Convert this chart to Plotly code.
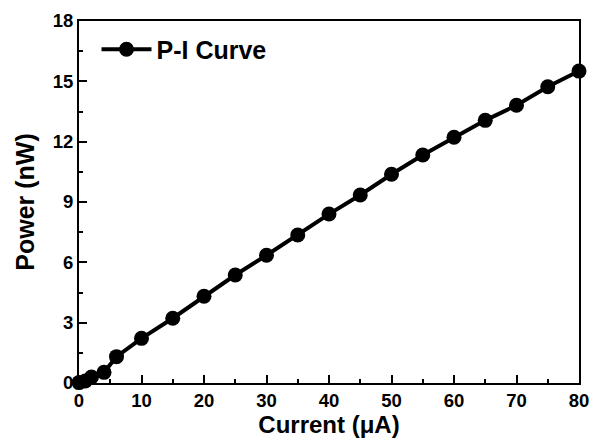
import plotly.graph_objects as go

# Measured power versus drive current
current_uA = [0, 1, 2, 4, 6, 10, 15, 20, 25, 30, 35, 40, 45, 50, 55, 60, 65, 70, 75, 80]
power_nW = [0.02, 0.1, 0.3, 0.53, 1.31, 2.22, 3.22, 4.31, 5.37, 6.35, 7.36,
            8.40, 9.35, 10.38, 11.34, 12.22, 13.06, 13.81, 14.73, 15.51]

x_ticks = [0, 10, 20, 30, 40, 50, 60, 70, 80]
y_ticks = [0, 3, 6, 9, 12, 15, 18]

FONT = "Liberation Sans, Arial, sans-serif"

fig = go.Figure()
fig.add_trace(go.Scatter(
    x=current_uA, y=power_nW,
    mode="lines+markers",
    name="<b>P-I Curve</b>",
    line=dict(color="black", width=4),
    marker=dict(color="black", size=15, symbol="circle"),
    cliponaxis=False,
))

axis_common = dict(
    showline=True, linecolor="black", linewidth=2, mirror=True,
    ticks="inside", ticklen=8, tickwidth=2, tickcolor="black",
    showgrid=False, zeroline=False,
    tickfont=dict(family=FONT, size=18.5, color="black", weight="bold"),
)

fig.update_xaxes(
    range=[0, 80], tickvals=x_ticks,
    minor=dict(ticks="inside", ticklen=4, tickwidth=2, tickcolor="black", dtick=5),
    title=dict(text="<b>Current (μA)</b>", font=dict(family=FONT, size=24, color="black"), standoff=12),
    **axis_common,
)
fig.update_yaxes(
    range=[0, 18], tickvals=y_ticks,
    minor=dict(ticks="inside", ticklen=4, tickwidth=2, tickcolor="black", dtick=1.5),
    title=dict(text="<b>Power (nW)</b>", font=dict(family=FONT, size=25, color="black"), standoff=11),
    **axis_common,
)

fig.update_layout(
    width=592, height=438,
    margin=dict(l=79, r=13, t=21, b=55, autoexpand=False),
    paper_bgcolor="white", plot_bgcolor="white",
    showlegend=True,
    legend=dict(
        x=0.035, y=0.985, xanchor="left", yanchor="top",
        bgcolor="rgba(0,0,0,0)",
        font=dict(family=FONT, size=25, color="black"),
        itemwidth=50,
    ),
)

fig.write_html("out.html")
